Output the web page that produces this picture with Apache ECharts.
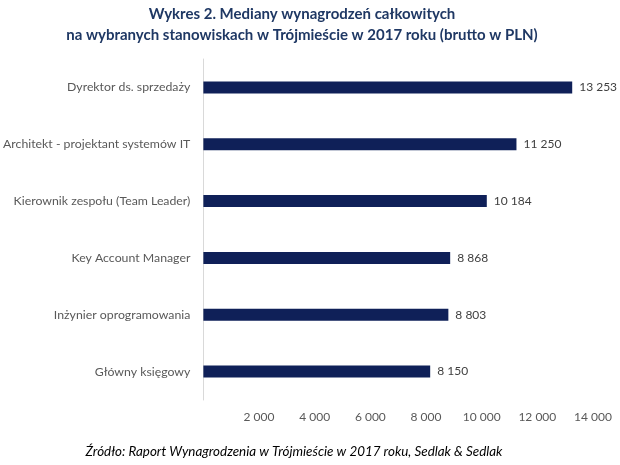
<!DOCTYPE html>
<html><head><meta charset="utf-8">
<script src="https://cdn.jsdelivr.net/npm/echarts@6/dist/echarts.min.js"></script>
<style>html,body{margin:0;padding:0;background:#fff}#c{width:620px;height:465px}</style>
</head><body><div id="c"></div>
<script>
const categories = ["Dyrektor ds. sprzedaży","Architekt - projektant systemów IT","Kierownik zespołu (Team Leader)","Key Account Manager","Inżynier oprogramowania","Główny księgowy"];
const values = [13253, 11250, 10184, 8868, 8803, 8150];
const xTicks = [2000, 4000, 6000, 8000, 10000, 12000, 14000];
const titleText = "Wykres 2. Mediany wynagrodzeń całkowitych\nna wybranych stanowiskach w Trójmieście w 2017 roku (brutto w PLN)";
const sourceText = "Źródło: Raport Wynagrodzenia w Trójmieście w 2017 roku, Sedlak & Sedlak";

const fmt = v => String(v).replace(/\B(?=(\d{3})+(?!\d))/g, " ");
const FONT = "Lato, 'Open Sans', sans-serif";
const chart = echarts.init(document.getElementById('c'), null, {renderer:'canvas'});
chart.setOption({
  animation: false,
  title: [{
    text: titleText, left: 297, textAlign: 'center', top: -1,
    textStyle: {fontFamily: FONT, fontSize: 15, fontWeight: 'bold', color: '#1F3864', lineHeight: 21}
  },{
    text: sourceText, left: 289, textAlign: 'center', top: 440,
    textStyle: {fontFamily: FONT, fontSize: 13.4, fontStyle: 'italic', fontWeight: 'normal', color: '#000'}
  }],
  grid: {left: 203, right: 27, top: 59, bottom: 65, containLabel: false},
  xAxis: {
    type: 'value', min: 0, max: 14000, interval: 2000,
    axisLine: {show: false}, axisTick: {show: false}, splitLine: {show: false},
    axisLabel: {fontFamily: FONT, fontSize: 12, color: '#595959', margin: 11,
      formatter: v => xTicks.includes(v) ? fmt(v) : ''}
  },
  yAxis: {
    type: 'category', data: categories, inverse: true,
    axisLine: {show: true, lineStyle: {color: '#D9D9D9', width: 1}},
    axisTick: {show: false},
    axisLabel: {fontFamily: FONT, fontSize: 12.3, color: '#595959', margin: 13}
  },
  series: [{
    type: 'bar', data: values, barWidth: 12,
    itemStyle: {color: '#0F2058'},
    label: {show: true, position: 'right', distance: 7, fontFamily: FONT, fontSize: 12, color: '#404040',
      formatter: p => fmt(p.value)}
  }]
});
</script></body></html>
